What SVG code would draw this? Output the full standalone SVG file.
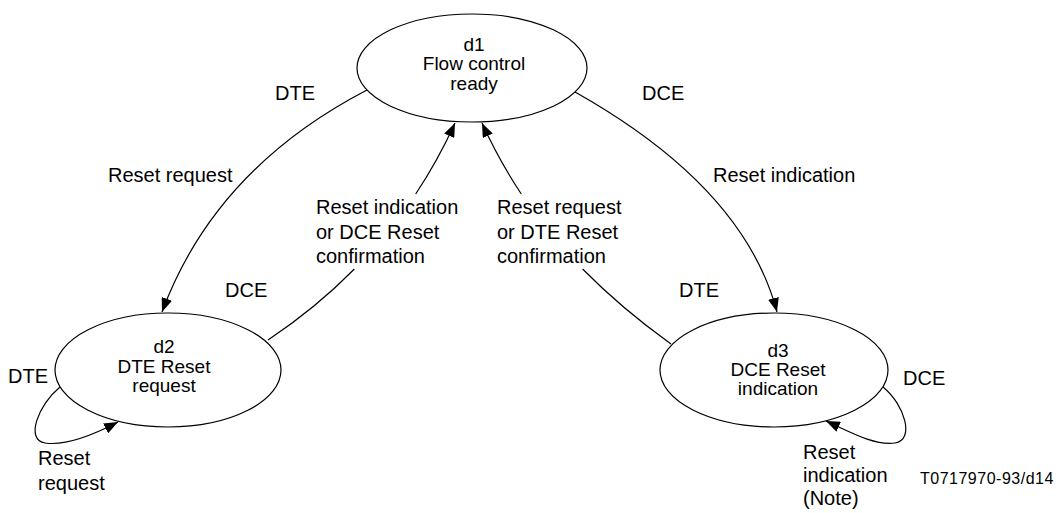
<svg xmlns="http://www.w3.org/2000/svg" width="1059" height="513" viewBox="0 0 1059 513">
<style>
text{font-family:"Liberation Sans",Arial,sans-serif;fill:#000}
.n{font-size:19px;text-anchor:middle}
.l{font-size:20px}
.c{font-size:16px;letter-spacing:0.5px}
.st{fill:#fff;stroke:#000;stroke-width:1.2}
.cn{fill:none;stroke:#000;stroke-width:1.2}
</style>
<defs>
<marker id="ah" markerWidth="14" markerHeight="11" refX="14" refY="5.5" orient="auto" markerUnits="userSpaceOnUse"><path d="M0,0 L14,5.5 L0,11 z" fill="#000"/></marker>
</defs>
<g id="connectors">
<path class="cn" d="M367,90 Q215,169 162,312" marker-end="url(#ah)"/>
<path class="cn" d="M575,92 Q744,187 777,312" marker-end="url(#ah)"/>
<path class="cn" d="M268,340 Q316,308 354.4,269"/>
<path class="cn" d="M415.7,194 Q438,160.4 455,123" marker-end="url(#ah)"/>
<path class="cn" d="M671,344 Q621,308 582.6,269"/>
<path class="cn" d="M521.3,194 Q499,160.4 482,123" marker-end="url(#ah)"/>
<path class="cn" d="M60,387 C38,405 25,440 45,443 C65,446 95,434 118,422" marker-end="url(#ah)"/>
<path class="cn" d="M883,387 C905,405 915,440 895,443 C875,446 850,432 826,421" marker-end="url(#ah)"/>
</g>
<g id="d1">
<ellipse class="st" cx="472" cy="68" rx="115" ry="54"/>
<text class="n" x="474" y="50.5">d1</text>
<text class="n" x="474" y="70">Flow control</text>
<text class="n" x="474" y="89.5">ready</text>
</g>
<g id="d2">
<ellipse class="st" cx="168" cy="370" rx="113" ry="57"/>
<text class="n" x="164" y="353">d2</text>
<text class="n" x="164" y="372.5">DTE Reset</text>
<text class="n" x="164" y="392">request</text>
</g>
<g id="d3">
<ellipse class="st" cx="774" cy="370" rx="114" ry="57"/>
<text class="n" x="778" y="357">d3</text>
<text class="n" x="778" y="376">DCE Reset</text>
<text class="n" x="778" y="395">indication</text>
</g>
<g id="labels">
<text class="l" x="275" y="100">DTE</text>
<text class="l" x="642" y="100">DCE</text>
<text class="l" x="108" y="182">Reset request</text>
<text class="l" x="713" y="182">Reset indication</text>
<text class="l" x="316" y="214">Reset indication</text>
<text class="l" x="316" y="238.5">or DCE Reset</text>
<text class="l" x="316" y="263">confirmation</text>
<text class="l" x="497" y="214">Reset request</text>
<text class="l" x="497" y="238.5">or DTE Reset</text>
<text class="l" x="497" y="263">confirmation</text>
<text class="l" x="225" y="297">DCE</text>
<text class="l" x="679" y="297">DTE</text>
<text class="l" x="8" y="383">DTE</text>
<text class="l" x="903" y="385">DCE</text>
<text class="l" x="38" y="465">Reset</text>
<text class="l" x="38" y="490">request</text>
<text class="l" x="803" y="459">Reset</text>
<text class="l" x="803" y="482">indication</text>
<text class="l" x="803" y="505">(Note)</text>
<text class="c" x="920" y="484">T0717970-93/d14</text>
</g>
</svg>
